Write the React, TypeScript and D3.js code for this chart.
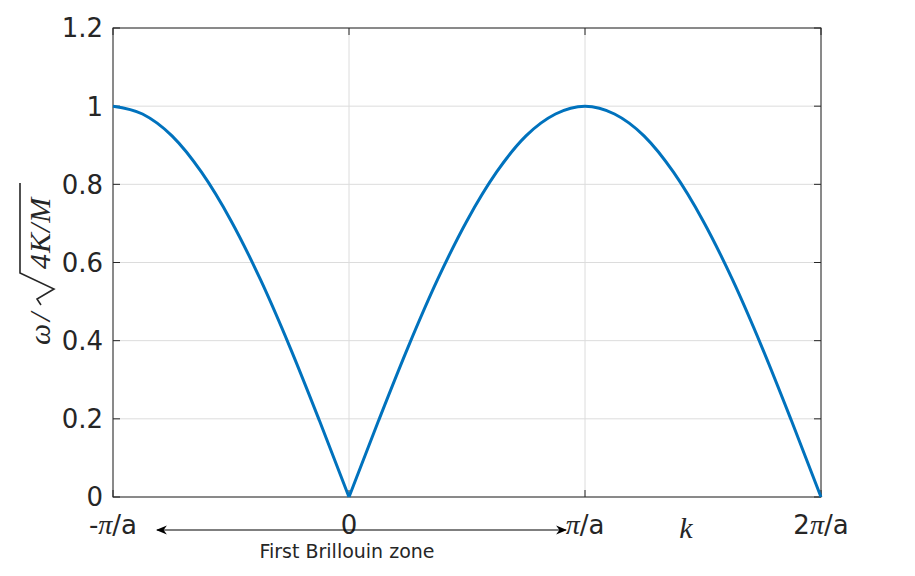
import * as d3 from "d3"
import React from "react"

// k in units of pi/a, omega normalised by sqrt(4K/M)
const kLeft = [-1, -0.875, -0.75, -0.625, -0.5, -0.375, -0.25, -0.125, 0]
const wLeft = [1, 0.98, 0.924, 0.831, 0.707, 0.556, 0.383, 0.195, 0]
const kRight = [0, 0.125, 0.25, 0.375, 0.5, 0.625, 0.75, 0.875, 1, 1.125, 1.25, 1.375, 1.5, 1.625, 1.75, 1.875, 2]
const wRight = [0, 0.195, 0.383, 0.556, 0.707, 0.831, 0.924, 0.98, 1, 0.98, 0.924, 0.831, 0.707, 0.556, 0.383, 0.195, 0]
const xTickVals = [-1, 0, 1, 2]
const xTickPre = ["-", "0", "", "2"]
const xTickPi = [true, false, true, true]
const yTickVals = [0, 0.2, 0.4, 0.6, 0.8, 1, 1.2]

export default function App() {
  const W = 915, H = 576
  const x0 = 113, x1 = 821, y0 = 497, y1 = 28
  const x = d3.scaleLinear().domain([-1, 2]).range([x0, x1])
  const y = d3.scaleLinear().domain([0, 1.2]).range([y0, y1])
  const line = d3.line<[number, number]>().curve(d3.curveMonotoneX).x(d => x(d[0])).y(d => y(d[1]))
  const left = line(kLeft.map((k, i) => [k, wLeft[i]]))
  const right = line(kRight.map((k, i) => [k, wRight[i]]))
  const tick = 7
  const tickFont = "DejaVu Sans, sans-serif"
  const mathFont = "Liberation Serif, DejaVu Serif, serif"
  return (
    <svg width={W} height={H} style={{ position: "absolute", left: 0, top: 0, background: "#fff" }}>
      <defs>
        <marker id="ah" viewBox="0 0 10 10" refX="9" refY="5" markerWidth="11" markerHeight="11" orient="auto-start-reverse" markerUnits="userSpaceOnUse">
          <path d="M0,1 L10,5 L0,9 L3,5 Z" fill="#000" />
        </marker>
      </defs>
      {xTickVals.map(v => (
        <line key={"gx" + v} x1={x(v)} x2={x(v)} y1={y0} y2={y1} stroke="#dcdcdc" strokeWidth={1} />
      ))}
      {yTickVals.map(v => (
        <line key={"gy" + v} x1={x0} x2={x1} y1={y(v)} y2={y(v)} stroke="#dcdcdc" strokeWidth={1} />
      ))}
      <rect x={x0} y={y1} width={x1 - x0} height={y0 - y1} fill="none" stroke="#262626" strokeWidth={1} />
      {xTickVals.map(v => (
        <g key={"tx" + v}>
          <line x1={x(v)} x2={x(v)} y1={y0} y2={y0 - tick} stroke="#262626" />
          <line x1={x(v)} x2={x(v)} y1={y1} y2={y1 + tick} stroke="#262626" />
        </g>
      ))}
      {yTickVals.map(v => (
        <g key={"ty" + v}>
          <line x1={x0} x2={x0 + tick} y1={y(v)} y2={y(v)} stroke="#262626" />
          <line x1={x1} x2={x1 - tick} y1={y(v)} y2={y(v)} stroke="#262626" />
          <text x={x0 - 10} y={y(v)} dy="0.36em" textAnchor="end" fontFamily={tickFont} fontSize={26} fill="#262626">{d3.format("~g")(v)}</text>
        </g>
      ))}
      {xTickVals.map((v, i) => (
        <text key={"lx" + v} x={x(v)} y={534} textAnchor="middle" fontFamily={tickFont} fontSize={26} fill="#262626">
          {xTickPre[i]}
          {xTickPi[i] && <tspan fontFamily={mathFont} fontStyle="italic" fontSize={28}>π</tspan>}
          {xTickPi[i] && "/a"}
        </text>
      ))}
      <path d={left || ""} fill="none" stroke="#0072BD" strokeWidth={3} />
      <path d={right || ""} fill="none" stroke="#0072BD" strokeWidth={3} />
      <text x={686} y={538} textAnchor="middle" fontFamily={mathFont} fontStyle="italic" fontSize={30} fill="#262626">k</text>
      <g transform="translate(50,345) rotate(-90)" fill="#262626">
        <text x={0} y={0} fontFamily={mathFont} fontStyle="italic" fontSize={30}>ω</text>
        <text x={24} y={0} fontFamily={mathFont} fontStyle="italic" fontSize={30}>/</text>
        <path d="M40,-9 L46,-13 L56,4 L72,-30 L162,-30" fill="none" stroke="#262626" strokeWidth={1.6} />
        <text x={76} y={0} fontFamily={mathFont} fontStyle="italic" fontSize={30} letterSpacing={1}>4K/M</text>
      </g>
      <line x1={157} x2={566} y1={530} y2={530} stroke="#000" strokeWidth={1.2} markerStart="url(#ah)" markerEnd="url(#ah)" />
      <text x={347} y={558} textAnchor="middle" fontFamily={tickFont} fontSize={19} fill="#262626">First Brillouin zone</text>
    </svg>
  )
}
